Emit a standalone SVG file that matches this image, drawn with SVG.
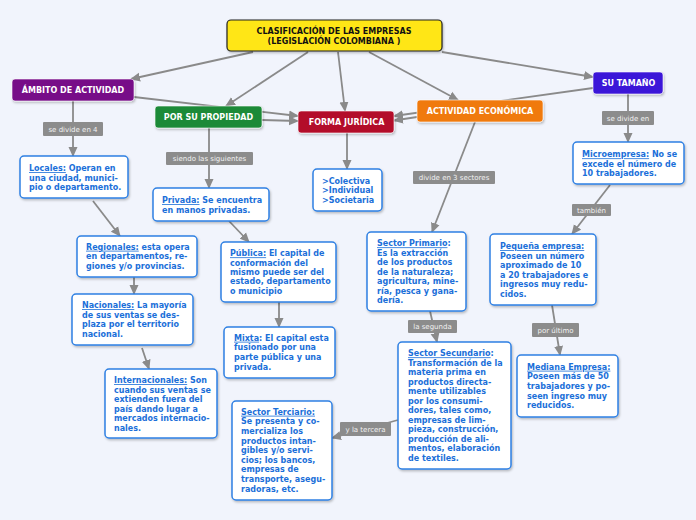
<svg xmlns="http://www.w3.org/2000/svg" width="696" height="520" viewBox="0 0 696 520">
<defs>
<marker id="arr" markerUnits="userSpaceOnUse" markerWidth="10" markerHeight="10" refX="9" refY="5" orient="auto">
<path d="M0,0.5 L10,5 L0,9.5 z" fill="#8a8a8a"/>
</marker>
<filter id="sh" x="-10%" y="-10%" width="130%" height="140%">
<feDropShadow dx="1" dy="1.5" stdDeviation="1" flood-color="#000" flood-opacity="0.25"/>
</filter>
</defs>
<style>
.bg{fill:#f1f4fc}
.c{stroke:#8a8a8a;stroke-width:1.8;fill:none;marker-end:url(#arr)}
.cn{stroke:#8a8a8a;stroke-width:1.8;fill:none}
.lb{fill:#8c8c8c}
.lt{font-family:"DejaVu Sans",sans-serif;font-size:7px;fill:#f2f2f2;text-anchor:middle}
.box{fill:#fff;stroke:#2f80e3;stroke-width:1.5;filter:url(#sh)}
.t{font-family:"DejaVu Sans",sans-serif;font-size:8px;font-weight:bold;fill:#1b6fd9}
.u{text-decoration:underline}
.h{stroke:#fff;stroke-opacity:0.6;stroke-width:1;filter:url(#sh)}
.ht{font-family:"DejaVu Sans",sans-serif;font-size:8px;font-weight:bold;fill:#fff;text-anchor:middle}
</style>
<rect class="bg" x="0" y="0" width="696" height="520"/>
<g id="connectors">
<path class="c" d="M253,52 L131,79"/>
<path class="c" d="M308,52 L226,106"/>
<path class="c" d="M338,52 L345,111"/>
<path class="c" d="M369,52 L458,100"/>
<path class="c" d="M442,52 L593,77"/>
<path class="c" d="M134,97 L298,116"/>
<path class="c" d="M262,120 L298,121"/>
<path class="c" d="M593,88 L394,116"/>
<path class="c" d="M417,117 L394,120.5"/>
<path class="c" d="M73,101 L73,156"/>
<path class="c" d="M93,201 L120,236"/>
<path class="c" d="M134,277 L134,294"/>
<path class="c" d="M142,348 L149,369"/>
<path class="c" d="M209,128 L209,188"/>
<path class="c" d="M229,221 L249,242"/>
<path class="c" d="M279,302 L279,327"/>
<path class="c" d="M347,133 L347,169"/>
<path class="c" d="M475,122 L432,232"/>
<path class="c" d="M430,311 L437,342"/>
<path class="c" d="M398,420 L332,438"/>
<path class="c" d="M628,94 L628,142"/>
<path class="c" d="M610,185 L572,234"/>
<path class="c" d="M552,305 L560,355"/>
<rect class="lb" x="43" y="122" width="60" height="14" rx="1"/>
<text class="lt" x="73" y="131.5">se divide en 4</text>
<rect class="lb" x="166" y="152" width="87" height="13" rx="1"/>
<text class="lt" x="209.5" y="161">siendo las siguientes</text>
<rect class="lb" x="413" y="171" width="82" height="13" rx="1"/>
<text class="lt" x="454" y="180">divide en 3 sectores</text>
<rect class="lb" x="408" y="320" width="49" height="13" rx="1"/>
<text class="lt" x="432.5" y="329">la segunda</text>
<rect class="lb" x="340" y="422" width="51" height="14" rx="1"/>
<text class="lt" x="365.5" y="431.5">y la tercera</text>
<rect class="lb" x="602" y="111" width="52" height="14" rx="1"/>
<text class="lt" x="628" y="120.5">se divide en</text>
<rect class="lb" x="572" y="204" width="39" height="12" rx="1"/>
<text class="lt" x="591.5" y="212.5">también</text>
<rect class="lb" x="532" y="323" width="47" height="14" rx="1"/>
<text class="lt" x="555.5" y="332.5">por último</text>
</g>
<g id="root">
<rect x="227" y="20" width="215" height="31" rx="4" fill="#ffe614" stroke="#222" stroke-width="1.2" filter="url(#sh)"/>
<text font-family="DejaVu Sans,sans-serif" font-size="8" font-weight="bold" fill="#111" text-anchor="middle"><tspan x="334" y="33.7">CLASIFICACIÓN DE LAS EMPRESAS</tspan><tspan x="334" y="43.7">(LEGISLACIÓN COLOMBIANA )</tspan></text>
</g>
<g id="ambito">
<rect class="h" x="12" y="79" width="122" height="22" rx="3" fill="#770a88"/>
<text class="ht" x="73" y="93">ÁMBITO DE ACTIVIDAD</text>
</g>
<g id="propiedad">
<rect class="h" x="155" y="106" width="107" height="22" rx="3" fill="#1f8a39"/>
<text class="ht" x="208.5" y="119.7">POR SU PROPIEDAD</text>
</g>
<g id="forma">
<rect class="h" x="298" y="111" width="96" height="22" rx="3" fill="#b30c2b"/>
<text class="ht" x="346.5" y="125.3">FORMA JURÍDICA</text>
</g>
<g id="actividad">
<rect class="h" x="417" y="100" width="126" height="22" rx="3" fill="#f07a10"/>
<text class="ht" x="480" y="114">ACTIVIDAD ECONÓMICA</text>
</g>
<g id="tamano">
<rect class="h" x="593" y="72" width="70" height="22" rx="3" fill="#3b12d8"/>
<text class="ht" x="628.5" y="85.7">SU TAMAÑO</text>
</g>
<g id="locales">
<rect class="box" x="20" y="156" width="108" height="42" rx="4"/>
<text class="t"><tspan x="29" y="171"><tspan class="u">Locales:</tspan> Operan en</tspan><tspan x="29" y="180.7">una ciudad, munici-</tspan><tspan x="29" y="190.4">pio o departamento.</tspan></text>
</g>
<g id="regionales">
<rect class="box" x="77" y="236" width="120" height="41" rx="4"/>
<text class="t"><tspan x="86" y="249.7"><tspan class="u">Regionales:</tspan> esta opera</tspan><tspan x="86" y="259.3">en departamentos, re-</tspan><tspan x="86" y="268.9">giones y/o provincias.</tspan></text>
</g>
<g id="nacionales">
<rect class="box" x="72" y="294" width="121" height="51" rx="4"/>
<text class="t"><tspan x="82" y="308"><tspan class="u">Nacionales:</tspan> La mayoría</tspan><tspan x="82" y="317.7">de sus ventas se des-</tspan><tspan x="82" y="327.4">plaza por el territorio</tspan><tspan x="82" y="337.1">nacional.</tspan></text>
</g>
<g id="internacionales">
<rect class="box" x="105" y="369" width="112" height="69" rx="4"/>
<text class="t"><tspan x="114" y="383"><tspan class="u">Internacionales:</tspan> Son</tspan><tspan x="114" y="392.5">cuando sus ventas se</tspan><tspan x="114" y="402">extienden fuera del</tspan><tspan x="114" y="411.5">país dando lugar a</tspan><tspan x="114" y="421">mercados internacio-</tspan><tspan x="114" y="430.5">nales.</tspan></text>
</g>
<g id="privada">
<rect class="box" x="153" y="188" width="116" height="33" rx="4"/>
<text class="t"><tspan x="162" y="203"><tspan class="u">Privada:</tspan> Se encuentra</tspan><tspan x="162" y="213">en manos privadas.</tspan></text>
</g>
<g id="publica">
<rect class="box" x="221" y="242" width="115" height="60" rx="4"/>
<text class="t"><tspan x="230" y="256.3"><tspan class="u">Pública:</tspan> El capital de</tspan><tspan x="230" y="265.6">conformación del</tspan><tspan x="230" y="274.9">mismo puede ser del</tspan><tspan x="230" y="284.2">estado, departamento</tspan><tspan x="230" y="293.5">o municipio</tspan></text>
</g>
<g id="mixta">
<rect class="box" x="224" y="327" width="111" height="51" rx="4"/>
<text class="t"><tspan x="234" y="340.7"><tspan class="u">Mixta</tspan>: El capital esta</tspan><tspan x="234" y="350.3">fusionado por una</tspan><tspan x="234" y="359.9">parte pública y una</tspan><tspan x="234" y="369.5">privada.</tspan></text>
</g>
<g id="juridica-tipos">
<rect class="box" x="313" y="169" width="69" height="42" rx="4"/>
<text class="t"><tspan x="322" y="183.7">&gt;Colectiva</tspan><tspan x="322" y="193.3">&gt;Individual</tspan><tspan x="322" y="202.9">&gt;Societaria</tspan></text>
</g>
<g id="primario">
<rect class="box" x="367" y="232" width="99" height="79" rx="4"/>
<text class="t"><tspan x="377" y="246.3"><tspan class="u">Sector Primario</tspan>:</tspan><tspan x="377" y="255.75">Es la extracción</tspan><tspan x="377" y="265.2">de los productos</tspan><tspan x="377" y="274.65">de la naturaleza;</tspan><tspan x="377" y="284.1">agricultura, mine-</tspan><tspan x="377" y="293.55">ría, pesca y gana-</tspan><tspan x="377" y="303">dería.</tspan></text>
</g>
<g id="secundario">
<rect class="box" x="398" y="342" width="113" height="127" rx="4"/>
<text class="t"><tspan x="408" y="356.3"><tspan class="u">Sector Secundario</tspan>:</tspan><tspan x="408" y="365.8">Transformación de la</tspan><tspan x="408" y="375.3">materia prima en</tspan><tspan x="408" y="384.8">productos directa-</tspan><tspan x="408" y="394.3">mente utilizables</tspan><tspan x="408" y="403.8">por los consumi-</tspan><tspan x="408" y="413.3">dores, tales como,</tspan><tspan x="408" y="422.8">empresas de lim-</tspan><tspan x="408" y="432.3">pieza, construcción,</tspan><tspan x="408" y="441.8">producción de ali-</tspan><tspan x="408" y="451.3">mentos, elaboración</tspan><tspan x="408" y="460.8">de textiles.</tspan></text>
</g>
<g id="terciario">
<rect class="box" x="232" y="401" width="100" height="99" rx="4"/>
<text class="t"><tspan x="241" y="414.7" class="u">Sector Terciario:</tspan><tspan x="241" y="424.3">Se presenta y co-</tspan><tspan x="241" y="433.9">mercializa los</tspan><tspan x="241" y="443.5">productos intan-</tspan><tspan x="241" y="453.1">gibles y/o servi-</tspan><tspan x="241" y="462.7">cios; los bancos,</tspan><tspan x="241" y="472.3">empresas de</tspan><tspan x="241" y="481.9">transporte, asegu-</tspan><tspan x="241" y="491.5">radoras, etc.</tspan></text>
</g>
<g id="micro">
<rect class="box" x="573" y="142" width="111" height="42" rx="4"/>
<text class="t"><tspan x="582" y="157.3"><tspan class="u">Microempresa:</tspan> No se</tspan><tspan x="582" y="166.6">excede el número de</tspan><tspan x="582" y="175.9">10 trabajadores.</tspan></text>
</g>
<g id="pequena">
<rect class="box" x="490" y="234" width="106" height="71" rx="4"/>
<text class="t"><tspan x="500" y="249" class="u">Pequeña empresa:</tspan><tspan x="500" y="258.6">Poseen un número</tspan><tspan x="500" y="268.2">aproximado de 10</tspan><tspan x="500" y="277.8">a 20 trabajadores e</tspan><tspan x="500" y="287.4">ingresos muy redu-</tspan><tspan x="500" y="297">cidos.</tspan></text>
</g>
<g id="mediana">
<rect class="box" x="517" y="355" width="101" height="62" rx="4"/>
<text class="t"><tspan x="527" y="369.7" class="u">Mediana Empresa:</tspan><tspan x="527" y="379.3">Poseen más de 50</tspan><tspan x="527" y="388.9">trabajadores y po-</tspan><tspan x="527" y="398.5">seen ingreso muy</tspan><tspan x="527" y="408.1">reducidos.</tspan></text>
</g>
</svg>
